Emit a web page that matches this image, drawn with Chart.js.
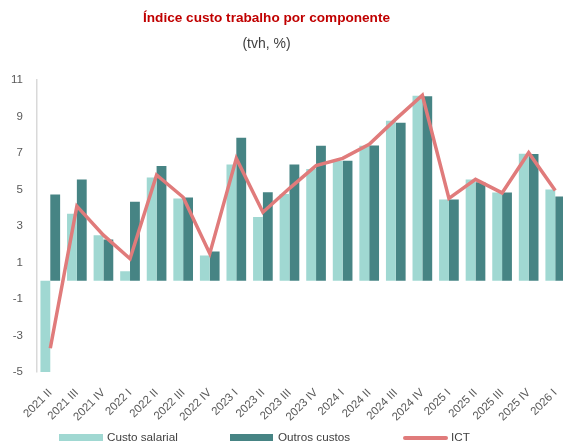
<!DOCTYPE html>
<html>
<head>
<meta charset="utf-8">
<script src="https://cdn.jsdelivr.net/npm/chart.js@4.4.1/dist/chart.umd.min.js"></script>
<style>
  body { margin: 0; background: #fff; }
  #wrap { position: relative; width: 563px; height: 447px; overflow: hidden; }
  #box { position: absolute; left: 0; top: 0; width: 571px; height: 447px; }
  .leg { position: absolute; top: 429px; height: 16px; font: 11.7px "Liberation Sans", Arial, sans-serif; color: #404040; line-height: 16px; white-space: nowrap; }
  .sw { position: absolute; top: 5px; height: 7px; }
</style>
</head>
<body>
<div id="wrap">
  <div id="box"><canvas id="chart"></canvas></div>
  <div class="leg" style="left:59px"><span class="sw" style="left:0;width:44px;background:#a0d8d2"></span><span style="margin-left:48px">Custo salarial</span></div>
  <div class="leg" style="left:230px"><span class="sw" style="left:0;width:43px;background:#468484"></span><span style="margin-left:48px">Outros custos</span></div>
  <div class="leg" style="left:403px"><span class="sw" style="left:0;width:45px;height:4px;top:7px;border-radius:2px;background:#e07b7b"></span><span style="margin-left:48px">ICT</span></div>
</div>
<script>
// Data
const labels = ['2021 II', '2021 III', '2021 IV', '2022 I', '2022 II', '2022 III', '2022 IV',
    '2023 I', '2023 II', '2023 III', '2023 IV', '2024 I', '2024 II', '2024 III', '2024 IV',
    '2025 I', '2025 II', '2025 III', '2025 IV', '2026 I'];
const custoSalarial = [-5.1, 3.67, 2.49, 0.52, 5.66, 4.51, 1.39, 6.37, 3.49, 4.76, 6.13,
    6.58, 7.4, 8.77, 10.15, 4.45, 5.55, 4.84, 6.97, 5.0];
const outrosCustos = [4.73, 5.55, 2.27, 4.33, 6.29, 4.56, 1.6, 7.84, 4.85, 6.38, 7.4,
    6.58, 7.42, 8.66, 10.12, 4.45, 5.4, 4.84, 6.95, 4.62];
const ict = [-3.7, 4.09, 2.5, 1.21, 5.8, 4.58, 1.49, 6.71, 3.76, 5.07, 6.31,
    6.71, 7.48, 8.86, 10.17, 4.52, 5.56, 4.82, 7.02, 4.95];

const FONT = '"Liberation Sans", Arial, sans-serif';

// shift the title blocks left, the chart area runs past the window edge
const shiftTitles = {
    id: 'shiftTitles',
    afterLayout(chart) {
        chart.boxes.forEach(b => {
            if (!b.axis && b.position === 'top') {
                b.left -= 19;
                b.right -= 19;
            }
        });
    }
};

const ctx = document.getElementById('chart').getContext('2d');
const chart = new Chart(ctx, {
    type: 'bar',
    data: {
        labels: labels,
        datasets: [{
            type: 'line',
            label: 'ICT',
            data: ict,
            borderColor: '#e07b7b',
            backgroundColor: '#e07b7b',
            borderWidth: 3.5,
            pointRadius: 0,
            tension: 0,
            order: 0
        }, {
            label: 'Custo salarial',
            data: custoSalarial,
            backgroundColor: '#a0d8d2',
            order: 1
        }, {
            label: 'Outros custos',
            data: outrosCustos,
            backgroundColor: '#468484',
            order: 1
        }]
    },
    options: {
        responsive: true,
        maintainAspectRatio: false,
        animation: false,
        layout: { padding: { bottom: 25 } },
        datasets: {
            bar: { categoryPercentage: 0.74, barPercentage: 1 }
        },
        plugins: {
            legend: { display: false },
            tooltip: { enabled: false },
            title: {
                display: true,
                text: 'Índice custo trabalho por componente',
                color: '#c00000',
                font: { family: FONT, size: 13.6, weight: 'bold', lineHeight: 1.2 },
                padding: { top: 10, bottom: 0 }
            },
            subtitle: {
                display: true,
                text: '(tvh, %)',
                color: '#404040',
                font: { family: FONT, size: 14, lineHeight: 1.2 },
                padding: { top: 9, bottom: 28 }
            }
        },
        scales: {
            x: {
                grid: { display: false },
                border: { display: false },
                ticks: {
                    color: '#595959',
                    font: { family: FONT, size: 11.5 },
                    minRotation: 45,
                    maxRotation: 45,
                    autoSkip: false,
                    padding: 6
                },
                afterFit: scale => { scale.height = 50; }
            },
            y: {
                min: -5,
                max: 11,
                ticks: {
                    stepSize: 2,
                    color: '#595959',
                    font: { family: FONT, size: 11.5 },
                    padding: 14
                },
                grid: {
                    drawTicks: false,
                    lineWidth: 1.5,
                    color: c => c.tick && c.tick.value === 0 ? '#d9d9d9' : 'rgba(0,0,0,0)'
                },
                border: { color: '#d9d9d9', width: 1.5 },
                afterFit: scale => { scale.width = 37; }
            }
        }
    },
    plugins: [shiftTitles]
});
</script>
</body>
</html>
